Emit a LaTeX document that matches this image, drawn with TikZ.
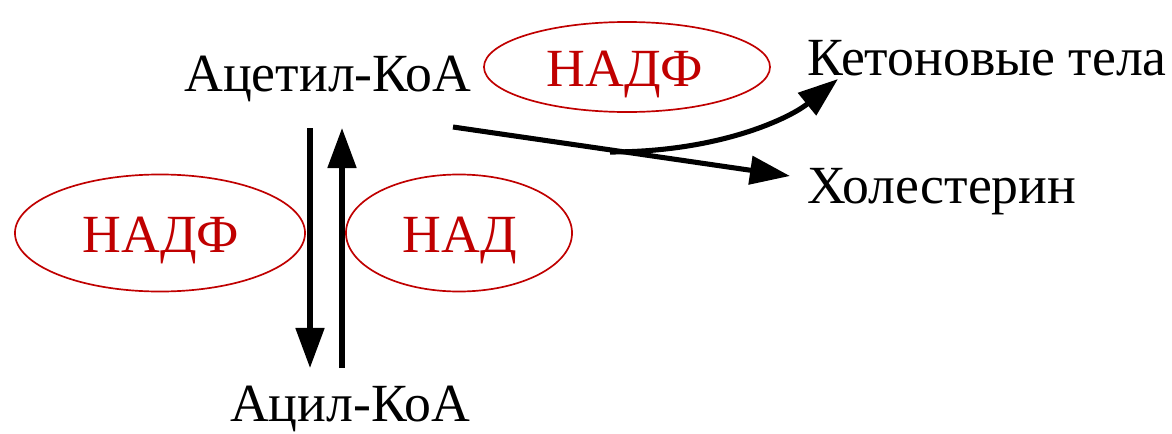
\documentclass[tikz,border=0pt]{standalone}
\usepackage{fontspec}
\setmainfont{Liberation Serif}
\usetikzlibrary{shapes.geometric,arrows.meta}
\definecolor{nadred}{HTML}{C00000}
\tikzset{
  lbl/.style={anchor=base,inner sep=0pt,font=\fontsize{38.2}{46}\selectfont},
  coenz/.style={draw=nadred,line width=1.2pt,ellipse,inner sep=0pt},
  coenztxt/.style={lbl,text=nadred},
  reac/.style={line width=3.6pt,-{Triangle[length=1cm,width=0.7cm]}}
}
\begin{document}
\begin{tikzpicture}[x=0.025cm,y=-0.025cm]
    \fill[white] (0,0) rectangle (1172,434);
    \useasboundingbox (0,0) rectangle (1172,434);

    \node[lbl] (acetyl) at (328,91) {Ацетил-КоА};
    \node[lbl] (acyl) at (350,421) {Ацил-КоА};
    \node[lbl,anchor=base west] (keton) at (807,75) {Кетоновые тела};
    \node[lbl,anchor=base west] (chol) at (807,203) {Холестерин};

    % cofactors
    \node[coenz,minimum width=7.15cm,minimum height=2.25cm] (e1) at (627,67) {};
    \node[coenztxt] (t1) at (625,86) {НАДФ};
    \node[coenz,minimum width=7.25cm,minimum height=2.925cm] (e2) at (160,233) {};
    \node[coenztxt] (t2) at (161,252) {НАДФ};
    \node[coenz,minimum width=5.65cm,minimum height=2.925cm] (e3) at (459,233) {};
    \node[coenztxt] (t3) at (460,252) {НАД};

    \coordinate (dtop) at (310,128);
    \coordinate (dbot) at (310,368);
    \coordinate (utop) at (342,128);
    \coordinate (ubot) at (342,368);
    \coordinate (s1) at (453,127);
    \coordinate (s2) at (790,176);
    \coordinate (br) at (610,152);
    \coordinate (k1) at (838,79);

    \draw[reac] (dtop) to (dbot);
    \draw[reac] (ubot) to (utop);
    \draw[reac] (s1) to (s2);
    \draw[reac] (br) .. controls (720,152) and (790,118) .. (k1);

\end{tikzpicture}
\end{document}
